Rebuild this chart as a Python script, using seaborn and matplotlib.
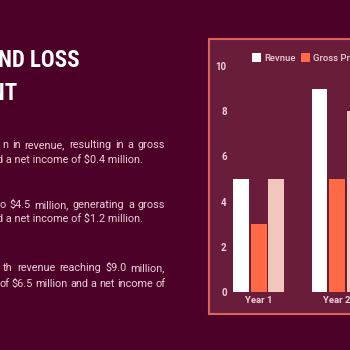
import pandas as pd
import matplotlib.pyplot as plt
import seaborn as sns
from matplotlib import font_manager
from matplotlib.font_manager import FontProperties
from matplotlib.patches import Rectangle

years = ['Year 1', 'Year 2']
series = ['Revnue', 'Gross Profit', 'Net Income']
revenue = [5, 9]
gross_profit = [3, 5]
net_income = [5, 8]
colors = ['#ffffff', '#ff6a45', '#f2c6bd']

title_lines = ['PROFIT AND LOSS', 'STATEMENT']
body_lines = [
    ('n in revenue, resulting in a gross', True),
    ('nd a net income of $0.4 million.', False),
    ('o $4.5 million, generating a gross', True),
    ('nd a net income of $1.2 million.', False),
    ('th revenue reaching $9.0 million,', True),
    ('of $6.5 million and a net income of', True),
]

W, H = 350, 350
bg = '#4c0027'
panel = '#6a1d3a'
border = '#d9645e'
light = '#ecd0d6'

plt.rcParams['font.family'] = ['Roboto', 'DejaVu Sans']

# the slide title uses a narrow face; take the narrowest bold one installed
files = [f.fname for f in font_manager.fontManager.ttflist]
title_file = None
for key in ['LiberationSansNarrow-Bold', 'RobotoCondensed-Bold', 'DejaVuSansCondensed-Bold']:
    hits = [f for f in files if key in f.replace(' ', '')]
    if hits:
        title_file = hits[0]
        break
if title_file:
    title_fp = FontProperties(fname=title_file)
else:
    title_fp = FontProperties(family=['Roboto', 'DejaVu Sans'], weight='bold')

fig = plt.figure(figsize=(3.5, 3.5), dpi=100)
fig.patch.set_facecolor(bg)
renderer = fig.canvas.get_renderer()

# panel behind the chart
fig.add_artist(Rectangle((209 / W, 1 - 314 / H), 160 / W, 275 / H,
                         transform=fig.transFigure, facecolor=panel,
                         edgecolor=border, linewidth=1.5, zorder=-1))

df = pd.DataFrame({
    'year': years * 3,
    'value': revenue + gross_profit + net_income,
    'series': [s for s in series for _ in years],
})

ax = fig.add_axes([229.5 / W, 1 - 292 / H, 157 / W, 226 / H])
sns.barplot(data=df, x='year', y='value', hue='series', hue_order=series,
            palette=colors, saturation=1, width=0.67, gap=0.09, ax=ax)
handles, labels = ax.get_legend_handles_labels()
ax.get_legend().remove()

ax.set_xlim(-0.37, 1.63)
ax.set_ylim(0, 10)
ax.set_yticks(range(0, 11, 2))
ax.set_xlabel('')
ax.set_ylabel('')
ax.patch.set_alpha(0)
for s in ax.spines.values():
    s.set_visible(False)
ax.tick_params(axis='y', length=0, pad=2, labelsize=7, labelcolor=light)
ax.tick_params(axis='x', length=0, pad=3, labelsize=6.8, labelcolor=light)
for lab in ax.get_xticklabels() + ax.get_yticklabels():
    lab.set_fontweight('bold')

fig.legend(handles, labels, loc='center left',
           bbox_to_anchor=(252 / W, 1 - 58 / H), ncol=3, frameon=False,
           borderpad=0, borderaxespad=0, handlelength=1.0, handleheight=1.0,
           handletextpad=0.25, columnspacing=0.6,
           prop={'size': 6.8, 'weight': 'medium'}, labelcolor=light)

# title, cut at the left edge of the slide crop; size it so "ND LOSS" is ~82px wide
title_fp.set_size(20)
probe = fig.text(0, 0, 'ND LOSS', fontproperties=title_fp)
title_fp.set_size(20 * 82 / probe.get_window_extent(renderer).width)
probe.remove()
fig.text(80 / W, 1 - 67 / H, title_lines[0], ha='right', va='baseline',
         color='white', fontproperties=title_fp)
fig.text(17 / W, 1 - 100 / H, title_lines[1], ha='right', va='baseline',
         color='white', fontproperties=title_fp)

# body text, justified to the right edge at x=165
baselines = [148, 163, 208, 222, 271, 287]
starts = [2, 143, 0, 143, 3, 2]
txt_kw = dict(color=light, fontsize=7.8, va='baseline')
for (line, just), y, x0 in zip(body_lines, baselines, starts):
    if not just:
        fig.text(x0 / W, 1 - y / H, line, ha='right', **txt_kw)
        continue
    words = line.split(' ')
    texts = [fig.text(0, 0, w, ha='left', **txt_kw) for w in words]
    widths = [t.get_window_extent(renderer).width for t in texts]
    gap = max((165 - x0 - sum(widths)) / (len(words) - 1), 2.5)
    x = 165 - sum(widths) - gap * (len(words) - 1)
    for t, w in zip(texts, widths):
        t.set_position((x / W, 1 - y / H))
        x += w + gap

fig.savefig('out.png', dpi=100, facecolor=bg)
